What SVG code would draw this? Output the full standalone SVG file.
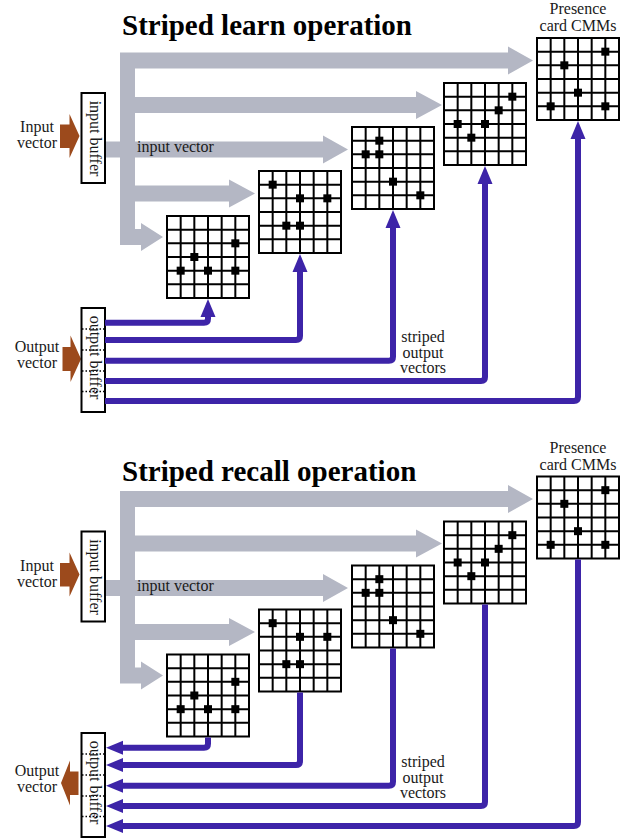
<svg xmlns="http://www.w3.org/2000/svg" xmlns:xlink="http://www.w3.org/1999/xlink" width="629" height="839" viewBox="0 0 629 839">
<style>
.g{fill:#b4b7c4}
.br{fill:#9c4a1c}
.pl{fill:none;stroke:#3d24a8;stroke-width:6;stroke-linejoin:round}
.ph{fill:#3d24a8}
.t{font-family:"Liberation Serif",serif;font-size:16px;fill:#1a1a1a}
.tm{text-anchor:middle}
.ti{font-family:"Liberation Serif",serif;font-size:29px;font-weight:bold;fill:#000}
.box{fill:#fff;stroke:#000;stroke-width:2}
.dl{stroke:#000;stroke-width:1.3;stroke-dasharray:1.5 2}
.gl{fill:none;stroke:#000;stroke-width:2}
</style>
<defs>
<path id="greyArrows" class="g" d="M120 52.5H508V46.5L533 60.5L508 74.5V68.5H135V97H416V91L442 105L416 119V113H135V141.5H323V135.5L348 149.5L323 163.5V157.5H135V185.5H229V179.5L255 193.5L229 207.5V201.5H135V229H141V223L163 237L141 251V245H120Z M105 141.5H121V157.5H105Z"/>
<g id="grid">
<rect width="82" height="82" fill="#fff"/>
<path class="gl" d="M0 0H82V82H0Z M13.67 0V82M27.33 0V82M41 0V82M54.67 0V82M68.33 0V82M0 13.67H82M0 27.33H82M0 41H82M0 54.67H82M0 68.33H82"/>
</g>
<rect id="dot" width="8" height="8" fill="#000"/>
</defs>

<!-- ================= LEARN ================= -->
<text id="title-learn" class="ti" x="122" y="35">Striped learn operation</text>

<g id="learn-input-arrows">
<use xlink:href="#greyArrows" href="#greyArrows"/>
<text class="t" x="137" y="152">input vector</text>
</g>

<g id="learn-input-vector">
<polygon class="br" points="60,124.5 69.5,124.5 69.5,114 79.5,136 69.5,158 69.5,148 60,148"/>
<text class="t tm" x="37" y="132">Input</text>
<text class="t tm" x="37" y="148">vector</text>
</g>

<g id="learn-input-buffer">
<rect class="box" x="81.5" y="93" width="23.5" height="90"/>
<text class="t tm" transform="translate(90,138.5) rotate(90)">input buffer</text>
</g>

<g id="learn-output-vector">
<polygon class="br" points="62.5,347 70.5,347 70.5,335.5 81,359 70.5,382 70.5,371 62.5,371"/>
<text class="t tm" x="37" y="351.5">Output</text>
<text class="t tm" x="37" y="367.5">vector</text>
</g>

<g id="learn-output-buffer">
<rect class="box" x="81.5" y="308" width="23.5" height="104"/>
<path class="dl" d="M82 329H104M82 350H104M82 371H104M82 391.5H104"/>
<text class="t tm" transform="translate(90,357.5) rotate(90)">output buffer</text>
</g>

<g id="learn-cmm1" transform="translate(167,216)">
<use xlink:href="#grid" href="#grid"/>
<use xlink:href="#dot" href="#dot" x="64.33" y="23.33"/>
<use xlink:href="#dot" href="#dot" x="23.33" y="37"/>
<use xlink:href="#dot" href="#dot" x="9.67" y="50.67"/>
<use xlink:href="#dot" href="#dot" x="37" y="50.67"/>
<use xlink:href="#dot" href="#dot" x="64.33" y="50.67"/>
</g>
<g id="learn-cmm2" transform="translate(259,171)">
<use xlink:href="#grid" href="#grid"/>
<use xlink:href="#dot" href="#dot" x="9.67" y="9.67"/>
<use xlink:href="#dot" href="#dot" x="37" y="23.33"/>
<use xlink:href="#dot" href="#dot" x="64.33" y="23.33"/>
<use xlink:href="#dot" href="#dot" x="23.33" y="50.67"/>
<use xlink:href="#dot" href="#dot" x="37" y="50.67"/>
</g>
<g id="learn-cmm3" transform="translate(352,127)">
<use xlink:href="#grid" href="#grid"/>
<use xlink:href="#dot" href="#dot" x="23.33" y="9.67"/>
<use xlink:href="#dot" href="#dot" x="9.67" y="23.33"/>
<use xlink:href="#dot" href="#dot" x="23.33" y="23.33"/>
<use xlink:href="#dot" href="#dot" x="37" y="50.67"/>
<use xlink:href="#dot" href="#dot" x="64.33" y="64.33"/>
</g>
<g id="learn-cmm4" transform="translate(444,83)">
<use xlink:href="#grid" href="#grid"/>
<use xlink:href="#dot" href="#dot" x="64.33" y="9.67"/>
<use xlink:href="#dot" href="#dot" x="50.67" y="23.33"/>
<use xlink:href="#dot" href="#dot" x="9.67" y="37"/>
<use xlink:href="#dot" href="#dot" x="37" y="37"/>
<use xlink:href="#dot" href="#dot" x="23.33" y="50.67"/>
</g>
<g id="learn-cmm5" transform="translate(537,38)">
<use xlink:href="#grid" href="#grid"/>
<use xlink:href="#dot" href="#dot" x="64.33" y="9.67"/>
<use xlink:href="#dot" href="#dot" x="23.33" y="23.33"/>
<use xlink:href="#dot" href="#dot" x="37" y="50.67"/>
<use xlink:href="#dot" href="#dot" x="9.67" y="64.33"/>
<use xlink:href="#dot" href="#dot" x="64.33" y="64.33"/>
</g>
<text class="t tm" x="578" y="14">Presence</text>
<text class="t tm" x="578" y="31">card CMMs</text>

<g id="learn-connectors">
<path class="pl" d="M105 322.7H204Q208 322.7 208 318.7V315"/>
<polygon class="ph" points="200.5,317 208,299 215.5,317"/>
<path class="pl" d="M105 340H296Q300 340 300 336V271"/>
<polygon class="ph" points="292.5,272 300,254 307.5,272"/>
<path class="pl" d="M105 360.7H389Q393 360.7 393 356.7V227"/>
<polygon class="ph" points="385.5,228 393,210 400.5,228"/>
<path class="pl" d="M105 381H481Q485 381 485 377V183"/>
<polygon class="ph" points="477.5,184 485,166 492.5,184"/>
<path class="pl" d="M105 401H574Q578 401 578 397V138"/>
<polygon class="ph" points="570.5,139 578,121 585.5,139"/>
</g>
<text class="t tm" x="423" y="342">striped</text>
<text class="t tm" x="423" y="357.5">output</text>
<text class="t tm" x="423" y="373">vectors</text>

<!-- ================= RECALL ================= -->
<text id="title-recall" class="ti" x="122" y="481">Striped recall operation</text>

<g id="recall-input-arrows" transform="translate(0,438.5)">
<use xlink:href="#greyArrows" href="#greyArrows"/>
<text class="t" x="137" y="152">input vector</text>
</g>

<g id="recall-input-vector" transform="translate(0,438.5)">
<polygon class="br" points="60,124.5 69.5,124.5 69.5,114 79.5,136 69.5,158 69.5,148 60,148"/>
<text class="t tm" x="37" y="132">Input</text>
<text class="t tm" x="37" y="148">vector</text>
</g>

<g id="recall-input-buffer" transform="translate(0,438.5)">
<rect class="box" x="81.5" y="93" width="23.5" height="90"/>
<text class="t tm" transform="translate(90,138.5) rotate(90)">input buffer</text>
</g>

<g id="recall-output-vector">
<polygon class="br" points="78.5,771.5 70,771.5 70,760.5 61,783 70,805.5 70,795 78.5,795"/>
<text class="t tm" x="37" y="776">Output</text>
<text class="t tm" x="37" y="792">vector</text>
</g>

<g id="recall-output-buffer" transform="translate(0,425)">
<rect class="box" x="81.5" y="308" width="23.5" height="104"/>
<path class="dl" d="M82 329H104M82 350H104M82 371H104M82 391.5H104"/>
<text class="t tm" transform="translate(90,357.5) rotate(90)">output buffer</text>
</g>

<g id="recall-cmm1" transform="translate(167,654.5)">
<use xlink:href="#grid" href="#grid"/>
<use xlink:href="#dot" href="#dot" x="64.33" y="23.33"/>
<use xlink:href="#dot" href="#dot" x="23.33" y="37"/>
<use xlink:href="#dot" href="#dot" x="9.67" y="50.67"/>
<use xlink:href="#dot" href="#dot" x="37" y="50.67"/>
<use xlink:href="#dot" href="#dot" x="64.33" y="50.67"/>
</g>
<g id="recall-cmm2" transform="translate(259,609.5)">
<use xlink:href="#grid" href="#grid"/>
<use xlink:href="#dot" href="#dot" x="9.67" y="9.67"/>
<use xlink:href="#dot" href="#dot" x="37" y="23.33"/>
<use xlink:href="#dot" href="#dot" x="64.33" y="23.33"/>
<use xlink:href="#dot" href="#dot" x="23.33" y="50.67"/>
<use xlink:href="#dot" href="#dot" x="37" y="50.67"/>
</g>
<g id="recall-cmm3" transform="translate(352,565.5)">
<use xlink:href="#grid" href="#grid"/>
<use xlink:href="#dot" href="#dot" x="23.33" y="9.67"/>
<use xlink:href="#dot" href="#dot" x="9.67" y="23.33"/>
<use xlink:href="#dot" href="#dot" x="23.33" y="23.33"/>
<use xlink:href="#dot" href="#dot" x="37" y="50.67"/>
<use xlink:href="#dot" href="#dot" x="64.33" y="64.33"/>
</g>
<g id="recall-cmm4" transform="translate(444,521.5)">
<use xlink:href="#grid" href="#grid"/>
<use xlink:href="#dot" href="#dot" x="64.33" y="9.67"/>
<use xlink:href="#dot" href="#dot" x="50.67" y="23.33"/>
<use xlink:href="#dot" href="#dot" x="9.67" y="37"/>
<use xlink:href="#dot" href="#dot" x="37" y="37"/>
<use xlink:href="#dot" href="#dot" x="23.33" y="50.67"/>
</g>
<g id="recall-cmm5" transform="translate(537,476.5)">
<use xlink:href="#grid" href="#grid"/>
<use xlink:href="#dot" href="#dot" x="64.33" y="9.67"/>
<use xlink:href="#dot" href="#dot" x="23.33" y="23.33"/>
<use xlink:href="#dot" href="#dot" x="37" y="50.67"/>
<use xlink:href="#dot" href="#dot" x="9.67" y="64.33"/>
<use xlink:href="#dot" href="#dot" x="64.33" y="64.33"/>
</g>
<text class="t tm" x="578" y="452.5">Presence</text>
<text class="t tm" x="578" y="469.5">card CMMs</text>

<g id="recall-connectors">
<path class="pl" d="M208 737.5V743.7Q208 747.7 204 747.7H122"/>
<polygon class="ph" points="123,740.7 106,747.7 123,754.7"/>
<path class="pl" d="M300 692.5V761Q300 765 296 765H122"/>
<polygon class="ph" points="123,758 106,765 123,772"/>
<path class="pl" d="M393 648.5V781.7Q393 785.7 389 785.7H122"/>
<polygon class="ph" points="123,778.7 106,785.7 123,792.7"/>
<path class="pl" d="M485 604.5V802Q485 806 481 806H122"/>
<polygon class="ph" points="123,799 106,806 123,813"/>
<path class="pl" d="M578 559.5V822Q578 826 574 826H122"/>
<polygon class="ph" points="123,819 106,826 123,833"/>
</g>
<text class="t tm" x="423" y="767">striped</text>
<text class="t tm" x="423" y="782.5">output</text>
<text class="t tm" x="423" y="798">vectors</text>
</svg>
